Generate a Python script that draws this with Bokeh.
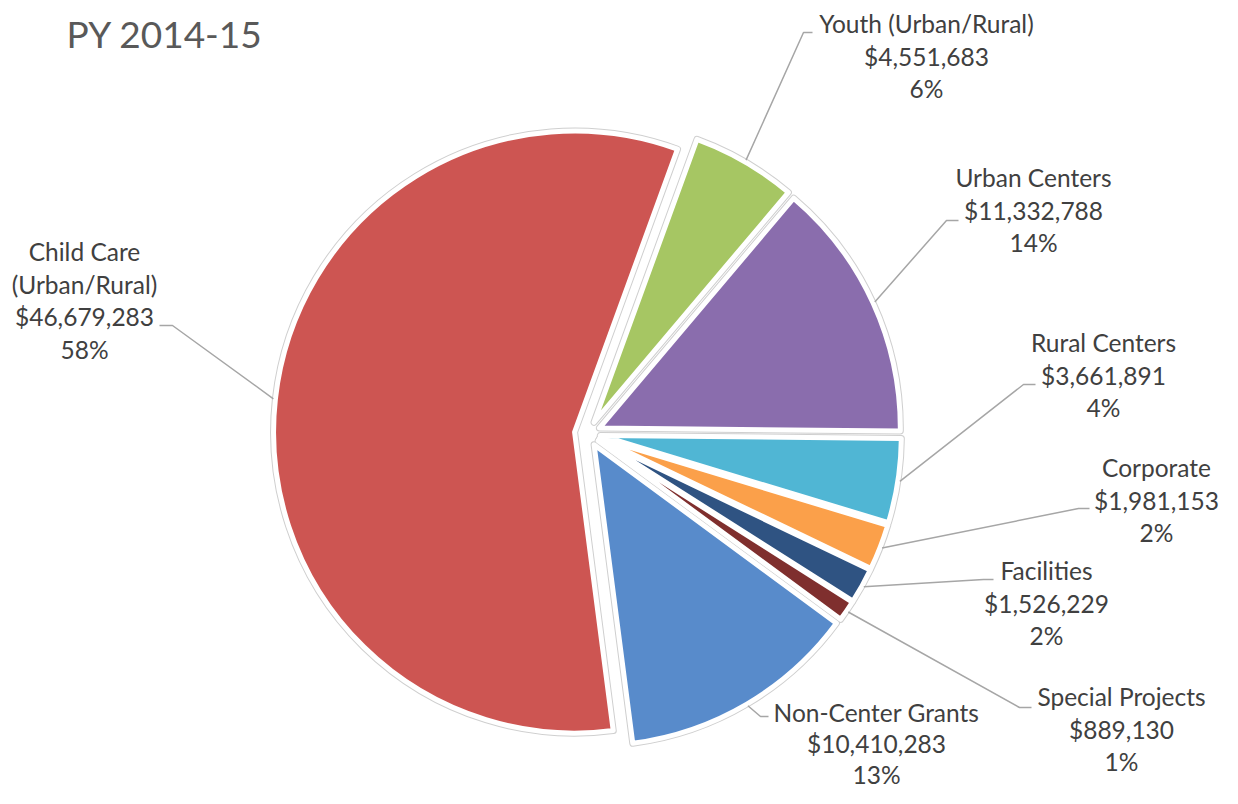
import numpy as np
from bokeh.plotting import figure
from bokeh.models import ColumnDataSource, Range1d
from bokeh.core.properties import value
from bokeh.embed import file_html
from bokeh.resources import INLINE

# ---------------- data ----------------
TITLE = "PY 2014-15"
CATEGORIES = ["Youth (Urban/Rural)", "Urban Centers", "Rural Centers", "Corporate",
              "Facilities", "Special Projects", "Non-Center Grants", "Child Care\n(Urban/Rural)"]
AMOUNTS = [4551683, 11332788, 3661891, 1981153, 1526229, 889130, 10410283, 46679283]
PERCENT_LABELS = ["6%", "14%", "4%", "2%", "2%", "1%", "13%", "58%"]
COLORS = ["#A6C663", "#8A6DAD", "#50B6D4", "#FBA04A", "#2F5382", "#7F2F2E", "#588BCB", "#CD5552"]

# ---------------- layout (canvas pixel coordinates, origin top-left) ----------------
W, H = 1222, 788
FIRST_ANGLE = 20.0          # degrees clockwise from 12 o'clock
CENTER = (587, 433)
RADIUS = 301
EXPLODE = 13
LABEL_FS = 24.5
TITLE_FS = 37
BASE_FIX = 0.4              # em shift so the glyph baseline lands on the wanted row
LINE_STEP = 32.5
LABEL_X = [926, 1033, 1103, 1156, 1046, 1121, 876, 84]
LABEL_BASE = [33, 187, 352, 477, 580, 706, 722, 261]
ELBOW = [(803, 32), (946, 220), (1023, 384), (1078, 508), (983, 579), (1019, 707), (760, 716), (172, 325)]
END_X = [812, 958, 1035, 1089, 993, 1031, 768, 159]
STEP = [LINE_STEP] * 6 + [31.0, LINE_STEP]


def px(x):
    return x


def py(y):
    return H - y


amounts = np.array(AMOUNTS, dtype=float)
frac = amounts / amounts.sum()
sweep = frac * 360.0
start_cw = FIRST_ANGLE + np.concatenate([[0.0], np.cumsum(sweep)[:-1]])
end_cw = start_cw + sweep
mid_cw = (start_cw + end_cw) / 2.0
mid_rad = np.radians(mid_cw)

cx, cy = px(CENTER[0]), py(CENTER[1])
vx = cx + EXPLODE * np.sin(mid_rad)
vy = cy + EXPLODE * np.cos(mid_rad)

wedges = ColumnDataSource(dict(
    x=vx, y=vy,
    start=np.radians(90.0 - start_cw), end=np.radians(90.0 - end_cw),
    color=COLORS,
))

p = figure(width=W, height=H, x_range=Range1d(0, W), y_range=Range1d(0, H),
           output_backend="svg", toolbar_location=None,
           x_axis_type=None, y_axis_type=None, min_border=0)
p.outline_line_color = None
p.background_fill_color = "white"
p.border_fill_color = "white"

# outer thin grey edge
p.wedge(x="x", y="y", radius=RADIUS, start_angle="start", end_angle="end",
        direction="clock", source=wedges,
        fill_color=None, line_color="#cfcfcf", line_width=7, line_join="round")
# slice with white border
p.wedge(x="x", y="y", radius=RADIUS, start_angle="start", end_angle="end",
        direction="clock", source=wedges,
        fill_color="color", line_color="white", line_width=5, line_join="round")

# leader lines
xs, ys = [], []
for i in range(len(AMOUNTS)):
    sx = vx[i] + (RADIUS + 2) * np.sin(mid_rad[i])
    sy = vy[i] + (RADIUS + 2) * np.cos(mid_rad[i])
    ex, ey = ELBOW[i]
    xs.append([sx, px(ex), px(END_X[i])])
    ys.append([sy, py(ey), py(ey)])
p.multi_line(xs=xs, ys=ys, line_color="#a6a6a6", line_width=1.5)

# labels
lx, ly, lt = [], [], []
for i, name in enumerate(CATEGORIES):
    lines = name.split("\n") + ["${:,}".format(AMOUNTS[i]), PERCENT_LABELS[i]]
    for k, t in enumerate(lines):
        lx.append(px(LABEL_X[i]))
        ly.append(py(LABEL_BASE[i] + k * STEP[i] - BASE_FIX * LABEL_FS))
        lt.append(t)
p.text(x=lx, y=ly, text=lt, text_align="center", text_baseline="alphabetic",
       text_font=value("Lato"), text_font_size=f"{LABEL_FS}px", text_color="#404040")

# title
p.text(x=[px(66)], y=[py(48 - BASE_FIX * TITLE_FS)], text=[TITLE], text_align="left",
       text_baseline="alphabetic", text_font=value("Lato"), text_font_size=f"{TITLE_FS}px",
       text_color="#595959")

open("out.html", "w").write(file_html(p, INLINE))
